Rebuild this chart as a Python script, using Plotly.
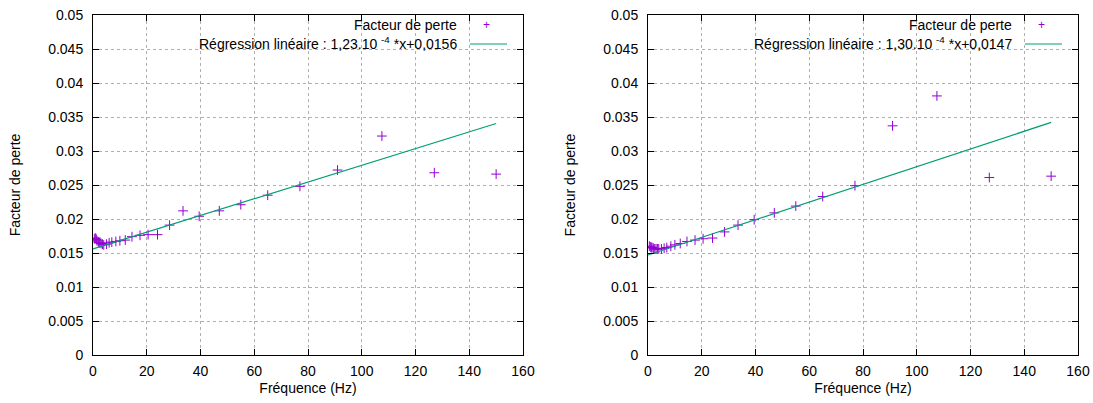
import plotly.graph_objects as go
from plotly.subplots import make_subplots

# ---- data ----
freq = [0.5, 1.0, 1.2, 1.5, 2.0, 2.5, 3.0, 3.5, 4.0, 5.0, 6.0, 7.0, 8.5, 10.0, 12.0,
        14.5, 17.5, 20.5, 24.0, 28.5, 33.5, 39.5, 47.0, 55.0, 65.0, 77.0, 91.0,
        107.5, 127.0, 150.0]
loss_left = [0.0171, 0.0172, 0.0170, 0.0168, 0.0166, 0.0165, 0.0164, 0.0163, 0.0162,
             0.0163, 0.0165, 0.0166, 0.0167, 0.0168, 0.0169, 0.0174, 0.0176, 0.0177,
             0.0177, 0.0191, 0.0212, 0.0204, 0.0212, 0.0221, 0.0235, 0.0248, 0.0272,
             0.0322, 0.0268, 0.0266]
loss_right = [0.0160, 0.0159, 0.0158, 0.0158, 0.0157, 0.0156, 0.0156, 0.0156, 0.0156,
              0.0156, 0.0157, 0.0158, 0.0160, 0.0162, 0.0164, 0.0167, 0.0169, 0.0171,
              0.0172, 0.0181, 0.0191, 0.0199, 0.0209, 0.0219, 0.0233, 0.0249, 0.0337,
              0.0381, 0.0261, 0.0263]
fit_left = (1.23e-4, 0.0156)
fit_right = (1.30e-4, 0.0147)
fit_x = [0.0, 150.0]
labels_left = ["Facteur de perte", "Régression linéaire : 1,23.10 <sup>-4</sup> *x+0,0156"]
labels_right = ["Facteur de perte", "Régression linéaire : 1,30.10 <sup>-4</sup> *x+0,0147"]
x_title = "Fréquence (Hz)"
y_title = "Facteur de perte"

PURPLE = "#9400d3"
TEAL = "#009e73"
FONT = "Liberation Sans, Arial, sans-serif"

W, H = 1093, 403
ML, MT = 93, 15
MR = W - 1078
MB = H - 355
PW = W - ML - MR
PH = H - MT - MB

fig = make_subplots(rows=1, cols=2)

for col, (loss, fit) in enumerate([(loss_left, fit_left), (loss_right, fit_right)], start=1):
    fig.add_trace(go.Scatter(x=freq, y=loss, mode="markers",
                             marker=dict(symbol="cross-thin", size=7,
                                         line=dict(color=PURPLE, width=1), color=PURPLE),
                             showlegend=False), row=1, col=col)
    fy = [fit[0] * v + fit[1] for v in fit_x]
    fig.add_trace(go.Scatter(x=fit_x, y=fy, mode="lines",
                             line=dict(color=TEAL, width=1.2), showlegend=False),
                  row=1, col=col)

xdoms = [[0, 430 / PW], [(648 - 93) / PW, 1]]
ydom = [0, 1]

axis_common = dict(showline=True, linecolor="#000000", linewidth=1, mirror="ticks",
                   ticks="inside", ticklen=6, tickcolor="#000000",
                   showgrid=True, gridcolor="#b0b0b0", griddash="dot", gridwidth=1,
                   zeroline=False, automargin=False,
                   tickfont=dict(family=FONT, size=14, color="#000000"))

for i, name in enumerate(["xaxis", "xaxis2"]):
    fig.layout[name].update(domain=xdoms[i], range=[0, 160], dtick=20, tick0=0,
                            ticklabelstandoff=3,
                            title=dict(text=x_title, font=dict(family=FONT, size=14, color="#000"),
                                       standoff=5),
                            **axis_common)
for i, name in enumerate(["yaxis", "yaxis2"]):
    fig.layout[name].update(domain=ydom, range=[0, 0.05], dtick=0.005, tick0=0,
                            ticklabelstandoff=6,
                            title=dict(text=y_title, font=dict(family=FONT, size=14, color="#000"),
                                       standoff=24),
                            **axis_common)

annotations = []
shapes = []
for i, labels in enumerate([labels_left, labels_right]):
    xr = "x domain" if i == 0 else "x2 domain"
    yr = "y domain" if i == 0 else "y2 domain"
    pw = (xdoms[i][1] - xdoms[i][0]) * PW
    ph = PH
    text_end = 1 - 64 / pw
    for j, lab in enumerate(labels):
        ypx = 10 + 18 * j  # from top of plot area
        annotations.append(dict(x=text_end, y=1 - ypx / ph, xref=xr, yref=yr,
                                text=lab, showarrow=False, xanchor="right", yanchor="middle",
                                font=dict(family=FONT, size=14, color="#000")))
    annotations.append(dict(x=1 - 37 / pw, y=1 - 10 / ph, xref=xr, yref=yr, text="+",
                            showarrow=False, xanchor="center", yanchor="middle",
                            font=dict(family=FONT, size=12, color=PURPLE)))
    shapes.append(dict(type="line", xref=xr, yref=yr, x0=1 - 53 / pw, x1=1 - 16 / pw,
                       y0=1 - 29 / ph, y1=1 - 29 / ph, line=dict(color=TEAL, width=1.2)))

fig.update_layout(width=W, height=H, margin=dict(l=ML, r=MR, t=MT, b=MB),
                  plot_bgcolor="#ffffff", paper_bgcolor="#ffffff",
                  annotations=annotations, shapes=shapes, showlegend=False,
                  font=dict(family=FONT, size=13, color="#000"))

fig.write_html("out.html", config={"displayModeBar": False},
               post_script="document.body.style.margin='0';document.body.style.overflow='hidden';")
